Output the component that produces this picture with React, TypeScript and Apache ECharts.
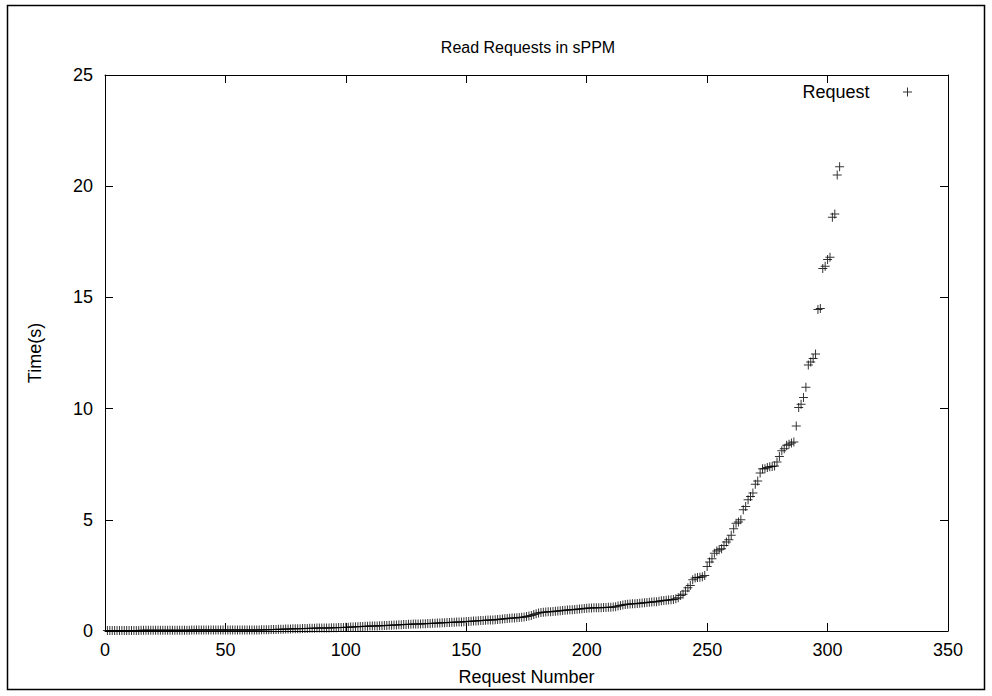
import React, { useEffect, useRef } from "react";
import * as echarts from "echarts";

// Request numbers 1..305 (x) and their sorted read times in seconds (y)
const requestTimes: number[] = [
  // 1-20
  0.02, 0.02, 0.02, 0.02, 0.02, 0.02, 0.02, 0.02, 0.02, 0.02,
  0.02, 0.02, 0.02, 0.02, 0.03, 0.03, 0.03, 0.03, 0.03, 0.03,
  // 21-40
  0.03, 0.03, 0.03, 0.03, 0.03, 0.03, 0.03, 0.03, 0.03, 0.03,
  0.03, 0.03, 0.03, 0.03, 0.03, 0.04, 0.04, 0.04, 0.04, 0.04,
  // 41-60
  0.04, 0.04, 0.04, 0.04, 0.04, 0.04, 0.04, 0.04, 0.04, 0.04,
  0.04, 0.04, 0.04, 0.05, 0.05, 0.05, 0.05, 0.05, 0.05, 0.05,
  // 61-80
  0.05, 0.05, 0.05, 0.05, 0.06, 0.06, 0.06, 0.06, 0.07, 0.07,
  0.07, 0.08, 0.08, 0.08, 0.09, 0.09, 0.09, 0.1, 0.1, 0.1,
  // 81-100
  0.1, 0.11, 0.11, 0.11, 0.12, 0.12, 0.12, 0.13, 0.13, 0.13,
  0.14, 0.14, 0.14, 0.15, 0.15, 0.15, 0.16, 0.16, 0.16, 0.17,
  // 101-120
  0.17, 0.18, 0.18, 0.19, 0.19, 0.2, 0.2, 0.21, 0.21, 0.22,
  0.22, 0.23, 0.23, 0.24, 0.24, 0.25, 0.25, 0.26, 0.26, 0.27,
  // 121-140
  0.27, 0.28, 0.28, 0.29, 0.29, 0.3, 0.3, 0.31, 0.31, 0.32,
  0.32, 0.33, 0.33, 0.34, 0.34, 0.35, 0.35, 0.36, 0.36, 0.37,
  // 141-160
  0.37, 0.38, 0.38, 0.39, 0.39, 0.4, 0.41, 0.41, 0.42, 0.43,
  0.43, 0.44, 0.45, 0.45, 0.46, 0.47, 0.47, 0.48, 0.49, 0.49,
  // 161-180
  0.5, 0.51, 0.52, 0.53, 0.54, 0.55, 0.56, 0.57, 0.58, 0.59,
  0.6, 0.61, 0.62, 0.63, 0.65, 0.67, 0.7, 0.74, 0.78, 0.81,
  // 181-200
  0.83, 0.84, 0.85, 0.86, 0.87, 0.88, 0.89, 0.9, 0.91, 0.92,
  0.93, 0.94, 0.95, 0.96, 0.97, 0.98, 0.99, 1.0, 1.01, 1.02,
  // 201-220
  1.03, 1.03, 1.04, 1.04, 1.05, 1.05, 1.06, 1.06, 1.07, 1.07,
  1.08, 1.09, 1.12, 1.15, 1.17, 1.19, 1.2, 1.21, 1.22, 1.23,
  // 221-240
  1.24, 1.25, 1.26, 1.27, 1.28, 1.29, 1.3, 1.31, 1.32, 1.34,
  1.36, 1.37, 1.38, 1.39, 1.4, 1.42, 1.45, 1.5, 1.6, 1.65,
  // 241-260
  1.8, 1.95, 2.05, 2.3, 2.38, 2.4, 2.42, 2.44, 2.5, 2.9,
  3.1, 3.25, 3.5, 3.6, 3.65, 3.7, 3.85, 4.0, 4.1, 4.3,
  // 261-280
  4.6, 4.85, 4.9, 5.0, 5.45, 5.6, 5.9, 6.05, 6.2, 6.6,
  6.75, 7.1, 7.3, 7.3, 7.35, 7.38, 7.4, 7.42, 7.6, 7.85,
  // 281-300
  8.1, 8.2, 8.35, 8.4, 8.45, 8.5, 9.22, 10.05, 10.2, 10.5,
  10.96, 11.96, 12.1, 12.25, 12.45, 14.46, 14.5, 16.3, 16.4, 16.7,
  // 301-305
  16.8, 18.6, 18.75, 20.5, 20.88,
];

const xTickValues = [0, 50, 100, 150, 200, 250, 300, 350];
const yTickValues = [0, 5, 10, 15, 20, 25];

const seriesName = "Request";
const titleText = "Read Requests in sPPM";
const xName = "Request Number";
const yName = "Time(s)";

const FONT = "'Liberation Sans', Arial, Helvetica, sans-serif";
const PLUS = "path://M4,0L5,0L5,4L9,4L9,5L5,5L5,9L4,9L4,5L0,5L0,4L4,4Z";

export default function App() {
  const ref = useRef<HTMLDivElement>(null);

  useEffect(() => {
    document.body.style.margin = "0";
    if (!ref.current) return;
    const chart = echarts.init(ref.current, undefined, { renderer: "svg" });

    const points = requestTimes.map((v, i) => [i + 1, v]);
    const xMin = xTickValues[0];
    const xMax = xTickValues[xTickValues.length - 1];
    const xInt = xTickValues[1] - xTickValues[0];
    const yMin = yTickValues[0];
    const yMax = yTickValues[yTickValues.length - 1];
    const yInt = yTickValues[1] - yTickValues[0];

    const lineStyle = { color: "#000", width: 1 };
    const tick = { show: true, inside: true, length: 8, lineStyle };

    chart.setOption({
      animation: false,
      backgroundColor: "#fff",
      textStyle: { fontFamily: FONT, color: "#000" },
      title: {
        text: titleText,
        left: 528,
        top: 39,
        padding: 0,
        textAlign: "center",
        textStyle: { fontFamily: FONT, fontSize: 16, fontWeight: "normal", color: "#000" },
      },
      legend: {
        data: [{ name: seriesName, icon: PLUS }],
        right: 80,
        top: 83,
        padding: 0,
        align: "right",
        itemWidth: 66,
        itemHeight: 9,
        textStyle: { fontFamily: FONT, fontSize: 18, color: "#000" },
      },
      grid: { left: 105, right: 44, top: 75, bottom: 65, containLabel: false },
      xAxis: [
        {
          type: "value",
          position: "bottom",
          min: xMin,
          max: xMax,
          interval: xInt,
          name: xName,
          nameLocation: "middle",
          nameGap: 37,
          nameTextStyle: { fontFamily: FONT, fontSize: 18, color: "#000" },
          axisLine: { show: true, onZero: false, lineStyle },
          axisTick: tick,
          axisLabel: { fontFamily: FONT, fontSize: 18, color: "#000", margin: 10 },
          splitLine: { show: false },
        },
        {
          type: "value",
          position: "top",
          min: xMin,
          max: xMax,
          interval: xInt,
          axisLine: { show: true, onZero: false, lineStyle },
          axisTick: tick,
          axisLabel: { show: false },
          splitLine: { show: false },
        },
      ],
      yAxis: [
        {
          type: "value",
          position: "left",
          min: yMin,
          max: yMax,
          interval: yInt,
          name: yName,
          nameLocation: "middle",
          nameRotate: 90,
          nameGap: 61,
          nameTextStyle: { fontFamily: FONT, fontSize: 18, color: "#000" },
          axisLine: { show: true, onZero: false, lineStyle },
          axisTick: tick,
          axisLabel: { fontFamily: FONT, fontSize: 18, color: "#000", margin: 12 },
          splitLine: { show: false },
        },
        {
          type: "value",
          position: "right",
          min: yMin,
          max: yMax,
          interval: yInt,
          axisLine: { show: true, onZero: false, lineStyle },
          axisTick: tick,
          axisLabel: { show: false },
          splitLine: { show: false },
        },
      ],
      graphic: [
        {
          type: "rect",
          shape: { x: 7.5, y: 5.5, width: 977, height: 684 },
          style: { fill: "none", stroke: "#000", lineWidth: 1.5 },
          silent: true,
        },
      ],
      series: [
        {
          name: seriesName,
          type: "scatter",
          xAxisIndex: 0,
          yAxisIndex: 0,
          data: points,
          symbol: PLUS,
          symbolSize: 9,
          itemStyle: { color: "#000" },
        },
      ],
    });

    return () => chart.dispose();
  }, []);

  return (
    <div
      ref={ref}
      style={{ position: "fixed", left: 0, top: 0, width: 992, height: 696 }}
    />
  );
}
